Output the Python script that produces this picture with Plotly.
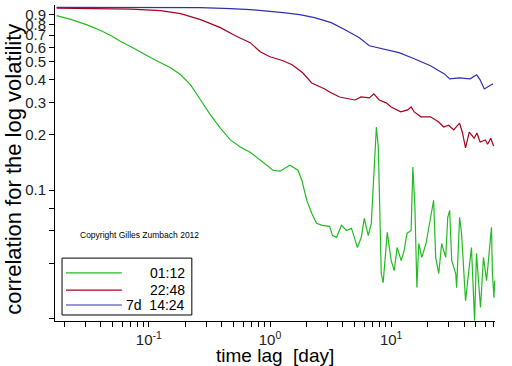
import plotly.graph_objects as go

# ---- data (time lag in days, correlation) ----
green_x = [0.0173, 0.0230, 0.0305, 0.0404, 0.0488, 0.0589, 0.0712, 0.0860, 0.104, 0.125,
           0.151, 0.183, 0.221, 0.267, 0.322, 0.389, 0.470, 0.568, 0.686, 0.828,
           1.058, 1.208, 1.459, 1.70, 1.83, 2.01, 2.21, 2.42, 2.70, 3.10,
           3.28, 3.54, 3.89, 4.28, 4.70, 4.97, 5.26, 5.67, 6.00, 6.23,
           6.47, 6.85, 7.11, 7.55, 7.83, 8.13, 8.28, 8.59, 9.10, 9.28,
           10.0, 10.6, 11.2, 12.1, 12.8, 13.5, 14.6, 15.1, 15.7, 16.3,
           16.9, 17.9, 19.4, 20.5, 21.7, 22.4, 23.3, 24.7, 26.1, 28.2,
           29.3, 30.4, 31.6, 34.1, 34.7, 36.7, 38.1, 41.1, 43.5, 46.0,
           48.8, 50.6, 54.6, 57.8, 61.3, 63.4, 67.3, 68.5, 70.5, 71.5]
green_y = [0.893, 0.849, 0.797, 0.739, 0.694, 0.644, 0.604, 0.561, 0.526, 0.494,
           0.464, 0.425, 0.375, 0.310, 0.257, 0.218, 0.188, 0.172, 0.161, 0.146,
           0.1285, 0.127, 0.137, 0.1285, 0.1134, 0.0882, 0.0749, 0.0660, 0.0644, 0.0636,
           0.0567, 0.0554, 0.0644, 0.0604, 0.0620, 0.0554, 0.0488, 0.0554, 0.0703, 0.0628,
           0.0567, 0.0660, 0.1038, 0.221, 0.172, 0.0628, 0.0352, 0.0314, 0.0488, 0.0590,
           0.0414, 0.0365, 0.0488, 0.0414, 0.0470, 0.0582, 0.0604, 0.1336, 0.0807, 0.0295,
           0.0513, 0.0431, 0.0513, 0.0628, 0.0749, 0.0882, 0.0431, 0.0352, 0.0513, 0.0431,
           0.0712, 0.0777, 0.0414, 0.0352, 0.0295, 0.0712, 0.0582, 0.0250, 0.0352, 0.0488,
           0.0195, 0.0453, 0.0230, 0.0431, 0.0322, 0.0399, 0.0628, 0.0352, 0.0260, 0.0322]

red_x = [0.0173, 0.0404, 0.0712, 0.125, 0.183, 0.267, 0.389, 0.517, 0.686, 0.828,
         1.0, 1.28, 1.52, 1.86, 2.21, 2.83, 3.10, 3.75, 4.16, 5.02,
         5.64, 6.60, 7.19, 7.97, 9.1, 10.0, 12.0, 13.7, 14.6, 15.5,
         17.6, 21.1, 24.7, 27.1, 29.8, 32.8, 36.7, 38.8, 41.1, 44.1,
         48.4, 51.0, 54.2, 59.9, 62.5, 66.3, 70.0]
red_y = [0.981, 0.975, 0.969, 0.951, 0.916, 0.849, 0.768, 0.694, 0.636, 0.568,
         0.533, 0.507, 0.482, 0.436, 0.384, 0.356, 0.343, 0.322, 0.318, 0.310,
         0.322, 0.318, 0.335, 0.310, 0.299, 0.284, 0.267, 0.274, 0.284, 0.267,
         0.251, 0.251, 0.235, 0.221, 0.226, 0.213, 0.232, 0.205, 0.170, 0.207,
         0.192, 0.205, 0.183, 0.1876, 0.178, 0.192, 0.174]

blue_x = [0.0173, 0.0404, 0.104, 0.267, 0.470, 0.686, 1.28, 1.76, 2.33, 3.20,
          4.16, 5.46, 6.60, 8.21, 11.6, 15.5, 21.1, 27.5, 30.4, 36.7,
          44.8, 50.8, 54.2, 58.7, 64.2, 69.3]
blue_y = [0.99, 0.99, 0.99, 0.988, 0.975, 0.963, 0.927, 0.904, 0.871, 0.818,
          0.748, 0.677, 0.612, 0.590, 0.561, 0.520, 0.476, 0.430, 0.404, 0.409,
          0.404, 0.425, 0.399, 0.356, 0.370, 0.380]

series_names = ["01:12", "22:48", "7d  14:24"]
series_colors = ["#22bb22", "#aa0022", "#3030b0"]

x_major = [0.1, 1, 10]
x_major_text = ["10<sup>-1</sup>", "10<sup>0</sup>", "10<sup>1</sup>"]
x_minor = [0.02, 0.03, 0.04, 0.05, 0.06, 0.07, 0.08, 0.09,
           0.2, 0.3, 0.4, 0.5, 0.6, 0.7, 0.8, 0.9,
           2, 3, 4, 5, 6, 7, 8, 9,
           20, 30, 40, 50, 60, 70]
y_major = [0.1, 0.2, 0.3, 0.4, 0.5, 0.6, 0.7, 0.8, 0.9]
y_minor = [0.02, 0.04, 0.06, 0.08]

fig = go.Figure()
for xs, ys, name, col in zip([green_x, red_x, blue_x], [green_y, red_y, blue_y],
                             series_names, series_colors):
    fig.add_trace(go.Scatter(x=xs, y=ys, mode="lines", name=name,
                             line=dict(color=col, width=1.2), showlegend=False))

fig.update_xaxes(type="log", range=[-1.775, 1.857], automargin=False,
                 tickmode="array", tickvals=x_major, ticktext=x_major_text,
                 ticks="outside", ticklen=5, tickcolor="black",
                 minor=dict(tickmode="array", tickvals=x_minor, ticks="outside",
                            ticklen=5, tickcolor="black", showgrid=False),
                 showline=True, linecolor="black", linewidth=1,
                 showgrid=False, zeroline=False,
                 tickfont=dict(family="Liberation Sans", size=15, color="#222"))
fig.update_yaxes(type="log", range=[-1.712, 0.0086], automargin=False,
                 tickmode="array", tickvals=y_major, ticktext=[str(v) for v in y_major],
                 ticks="outside", ticklen=5, tickcolor="black",
                 minor=dict(tickmode="array", tickvals=y_minor, ticks="outside",
                            ticklen=5, tickcolor="black", showgrid=False),
                 showline=True, linecolor="black", linewidth=1,
                 showgrid=False, zeroline=False,
                 tickfont=dict(family="Liberation Sans", size=15, color="#222"))

# manual legend box
shapes = [dict(type="rect", xref="paper", yref="paper", x0=0.016, x1=0.311, y0=0.019, y1=0.199,
               line=dict(color="black", width=1), fillcolor="white")]
leg_y = [0.152, 0.098, 0.0506]
annotations = []
for ly, name, col in zip(leg_y, series_names, series_colors):
    shapes.append(dict(type="line", xref="paper", yref="paper", x0=0.025, x1=0.152, y0=ly, y1=ly,
                       line=dict(color=col, width=1.2)))
    annotations.append(dict(xref="paper", yref="paper", x=0.30, y=ly, xanchor="right", yanchor="middle",
                            text=name, showarrow=False,
                            font=dict(family="Liberation Sans", size=14, color="black")))
annotations.append(dict(xref="paper", yref="paper", x=0.193, y=0.272, xanchor="center", yanchor="middle",
                        text="Copyright Gilles Zumbach 2012", showarrow=False,
                        font=dict(family="Liberation Sans", size=8.5, color="black")))
# axis titles
annotations.append(dict(xref="paper", yref="paper", x=0.5, y=-0.108, xanchor="center", yanchor="middle",
                        text="time lag  [day]", showarrow=False,
                        font=dict(family="Liberation Sans", size=19, color="black")))
annotations.append(dict(xref="paper", yref="paper", x=-0.093, y=0.479, xanchor="center", yanchor="middle",
                        text="correlation for the log volatility", showarrow=False, textangle=-90,
                        font=dict(family="Liberation Sans", size=22, color="black")))

fig.update_layout(width=512, height=366, margin=dict(l=55, r=17, t=5, b=45),
                  paper_bgcolor="white", plot_bgcolor="white",
                  shapes=shapes, annotations=annotations)

fig.write_html("out.html", config={"displayModeBar": False},
               post_script="document.body.style.margin='0';document.body.style.padding='0';")
